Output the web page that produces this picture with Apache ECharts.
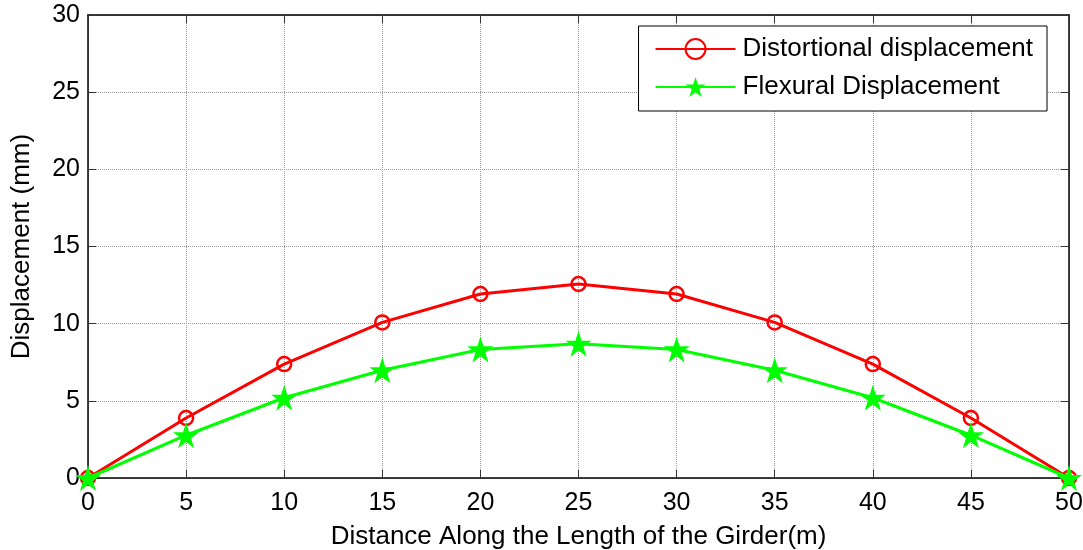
<!DOCTYPE html>
<html><head><meta charset="utf-8">
<script src="https://cdn.jsdelivr.net/npm/echarts@6/dist/echarts.min.js"></script>
<style>html,body{margin:0;padding:0;background:#fff}#c{width:1083px;height:550px}</style>
</head><body><div id="c"></div>
<script>
const xValues = [0, 5, 10, 15, 20, 25, 30, 35, 40, 45, 50];
const distortional = [0, 3.89, 7.38, 10.08, 11.92, 12.57, 11.92, 10.08, 7.38, 3.89, 0];
const flexural = [0, 2.77, 5.2, 6.98, 8.33, 8.7, 8.33, 6.98, 5.2, 2.77, 0];
const seriesNames = ['Distortional displacement', 'Flexural Displacement'];
const xTitle = 'Distance Along the Length of the Girder(m)';
const yTitle = 'Displacement (mm)';

const star = 'path://M50,0 L61.8,36.2 L100,36.2 L69.1,58.6 L80.9,95 L50,72.6 L19.1,95 L30.9,58.6 L0,36.2 L38.2,36.2 Z';
const font = 'Liberation Sans, Arial, sans-serif';
const chart = echarts.init(document.getElementById('c'));
const pair = a => xValues.map((x, i) => [x, a[i]]);
const baseAxis = {
  axisLine: { show: true, onZero: false, lineStyle: { color: '#000', width: 1.5 } },
  axisTick: { show: true, inside: true, length: 8, lineStyle: { color: '#333' } },
};
chart.setOption({
  animation: false,
  backgroundColor: '#fff',
  grid: { left: 88, right: 14, top: 15, bottom: 72, containLabel: false, outerBoundsMode: 'none' },
  legend: {
    right: 36, top: 26, orient: 'vertical',
    padding: [10, 14, 11, 16], itemGap: 12,
    itemWidth: 80, itemHeight: 25,
    borderColor: '#000', borderWidth: 1, backgroundColor: '#fff', borderRadius: 0,
    textStyle: { fontFamily: font, fontSize: 26, color: '#000', padding: [0, 0, 0, 2] },
    data: seriesNames
  },
  xAxis: [
    Object.assign({}, baseAxis, {
      type: 'value', min: 0, max: 50, interval: 5, position: 'bottom',
      name: xTitle, nameLocation: 'middle', nameGap: 46,
      nameTextStyle: { fontFamily: font, fontSize: 26, color: '#000' },
      axisLabel: { fontFamily: font, fontSize: 25, color: '#000', margin: 13 },
      splitLine: { show: true, lineStyle: { color: '#999', type: [1, 1], width: 1 } }
    }),
    Object.assign({}, baseAxis, {
      type: 'value', min: 0, max: 50, interval: 5, position: 'top',
      axisLabel: { show: false }, splitLine: { show: false }
    })
  ],
  yAxis: [
    Object.assign({}, baseAxis, {
      type: 'value', min: 0, max: 30, interval: 5, position: 'left',
      name: yTitle, nameLocation: 'middle', nameGap: 53, nameRotate: 90,
      nameTextStyle: { fontFamily: font, fontSize: 26, color: '#000' },
      axisLabel: { fontFamily: font, fontSize: 25, color: '#000', margin: 8 },
      splitLine: { show: true, lineStyle: { color: '#999', type: [1, 1], width: 1 } }
    }),
    Object.assign({}, baseAxis, {
      type: 'value', min: 0, max: 30, interval: 5, position: 'right',
      axisLabel: { show: false }, splitLine: { show: false }
    })
  ],
  series: [
    {
      name: seriesNames[0], type: 'line', data: pair(distortional),
      symbol: 'circle', symbolSize: 14, showAllSymbol: true,
      lineStyle: { color: '#ff0000', width: 3 },
      itemStyle: { color: 'rgba(255,255,255,0)', borderColor: '#ff0000', borderWidth: 2.5 },
      z: 2
    },
    {
      name: seriesNames[1], type: 'line', data: pair(flexural),
      symbol: star, symbolSize: 26, showAllSymbol: true,
      lineStyle: { color: '#00ff00', width: 3 },
      itemStyle: { color: '#00ff00', borderColor: '#00ff00', borderWidth: 0 },
      z: 3
    }
  ]
});
</script></body></html>
